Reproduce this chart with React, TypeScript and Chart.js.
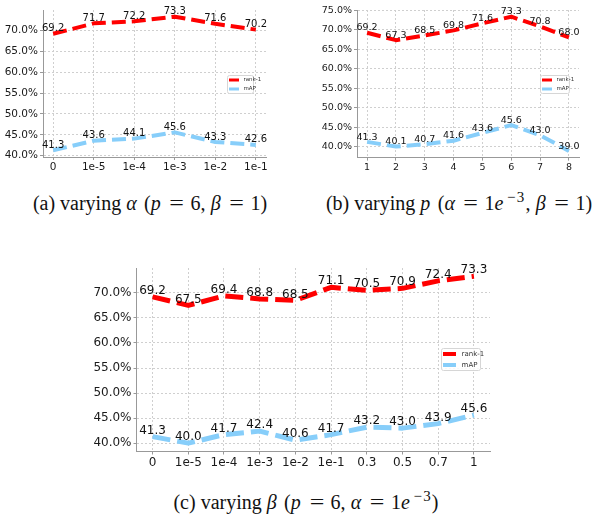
import React, { useEffect, useRef } from "react";
import { Chart, registerables } from "chart.js";

Chart.register(...registerables);

// ---------- data ----------
const seriesNames = ["rank-1", "mAP"];

const alphaLabels = ["0", "1e-5", "1e-4", "1e-3", "1e-2", "1e-1"];
const alphaRank1 = [69.2, 71.7, 72.2, 73.3, 71.6, 70.2];
const alphaMAP = [41.3, 43.6, 44.1, 45.6, 43.3, 42.6];

const pValues = [1, 2, 3, 4, 5, 6, 7, 8];
const pLabels = ["1", "2", "3", "4", "5", "6", "7", "8"];
const pRank1 = [69.2, 67.3, 68.5, 69.8, 71.6, 73.3, 70.8, 68.0];
const pMAP = [41.3, 40.1, 40.7, 41.6, 43.6, 45.6, 43.0, 39.0];

const betaLabels = ["0", "1e-5", "1e-4", "1e-3", "1e-2", "1e-1", "0.3", "0.5", "0.7", "1"];
const betaRank1 = [69.2, 67.5, 69.4, 68.8, 68.5, 71.1, 70.5, 70.9, 72.4, 73.3];
const betaMAP = [41.3, 40.0, 41.7, 42.4, 40.6, 41.7, 43.2, 43.0, 43.9, 45.6];

const yTicksA = [40, 45, 50, 55, 60, 65, 70];
const yTicksB = [40, 45, 50, 55, 60, 65, 70, 75];
const yTicksC = [40, 45, 50, 55, 60, 65, 70];

const RED = "#ff0000";
const BLUE = "#87cefa";

type Box = { x: number; y: number; w: number; h: number };

type PanelProps = {
  left: number;
  top: number;
  W: number;
  H: number;
  area: { left: number; top: number; right: number; bottom: number };
  xs: number[];
  xLabels: string[];
  rank1: number[];
  mAP: number[];
  xMin: number;
  xMax: number;
  yMin: number;
  yMax: number;
  yTicks: number[];
  tickFont: number;
  valueFont: number;
  lineWidth: number;
  dash: number[];
  legend: Box;
  legendFont: number;
  legendLine: number;
  legendSample: number;
};

function Panel(p: PanelProps) {
  const ref = useRef<HTMLCanvasElement | null>(null);
  useEffect(() => {
    if (!ref.current) return;
    const valuePlugin = {
      id: "valueLabels",
      afterDatasetsDraw(chart: any) {
        const ctx = chart.ctx;
        ctx.save();
        ctx.font = `${p.valueFont}px "DejaVu Sans"`;
        ctx.fillStyle = "#111111";
        ctx.textAlign = "center";
        ctx.textBaseline = "bottom";
        chart.data.datasets.forEach((ds: any, di: number) => {
          const meta = chart.getDatasetMeta(di);
          meta.data.forEach((pt: any, i: number) => {
            ctx.fillText(ds.data[i].y.toFixed(1), pt.x, pt.y);
          });
        });
        ctx.restore();
      },
    };
    const legendPlugin = {
      id: "boxLegend",
      afterDraw(chart: any) {
        const ctx = chart.ctx;
        const b = p.legend;
        ctx.save();
        ctx.fillStyle = "rgba(255,255,255,0.85)";
        ctx.strokeStyle = "#d6d6d6";
        ctx.lineWidth = 1;
        ctx.beginPath();
        if ((ctx as any).roundRect) (ctx as any).roundRect(b.x + 0.5, b.y + 0.5, b.w, b.h, 2);
        else ctx.rect(b.x + 0.5, b.y + 0.5, b.w, b.h);
        ctx.fill();
        ctx.stroke();
        const colors = [RED, BLUE];
        const rowH = b.h / 2;
        ctx.font = `${p.legendFont}px "DejaVu Sans"`;
        ctx.textAlign = "left";
        ctx.textBaseline = "middle";
        colors.forEach((c, i) => {
          const cy = b.y + rowH * (i + 0.5) + 0.5;
          ctx.strokeStyle = c;
          ctx.lineWidth = p.legendLine;
          ctx.beginPath();
          ctx.moveTo(b.x + 2, cy);
          ctx.lineTo(b.x + 2 + p.legendSample, cy);
          ctx.stroke();
          ctx.fillStyle = "#333333";
          ctx.fillText(seriesNames[i], b.x + 2 + p.legendSample + p.legendFont * 0.8, cy);
        });
        ctx.restore();
      },
    };
    const mkData = (vals: number[]) => p.xs.map((x, i) => ({ x, y: vals[i] }));
    const baseDs = {
      borderWidth: p.lineWidth,
      borderDash: p.dash,
      pointRadius: 0,
      fill: false,
      tension: 0,
      borderCapStyle: "butt",
      borderJoinStyle: "round",
    };
    const gridCommon = {
      color: "#cfcfcf",
      lineWidth: 1,
      drawTicks: true,
      tickLength: 3,
      tickColor: "#999999",
      tickBorderDash: [],
      tickWidth: 1,
    };
    const chart = new Chart(ref.current, {
      type: "line",
      data: {
        datasets: [
          { ...baseDs, label: seriesNames[0], data: mkData(p.rank1), borderColor: RED, backgroundColor: RED },
          { ...baseDs, label: seriesNames[1], data: mkData(p.mAP), borderColor: BLUE, backgroundColor: BLUE },
        ] as any,
      },
      options: {
        animation: false,
        responsive: false,
        maintainAspectRatio: false,
        events: [],
        layout: { padding: { left: 0, top: p.area.top, right: p.W - p.area.right, bottom: 0 } },
        plugins: { legend: { display: false }, tooltip: { enabled: false } },
        scales: {
          x: {
            type: "linear",
            min: p.xMin,
            max: p.xMax,
            afterBuildTicks: (s: any) => {
              s.ticks = p.xs.map((v) => ({ value: v }));
            },
            afterFit: (s: any) => {
              s.height = p.H - p.area.bottom;
            },
            ticks: {
              autoSkip: false,
              maxRotation: 0,
              minRotation: 0,
              padding: 1,
              color: "#1a1a1a",
              font: { family: "DejaVu Sans", size: p.tickFont },
              callback: (_v: any, i: number) => p.xLabels[i],
            },
            grid: gridCommon,
            border: { display: true, color: "#999999", width: 1, dash: [2, 2] },
          },
          y: {
            type: "linear",
            min: p.yMin,
            max: p.yMax,
            afterBuildTicks: (s: any) => {
              s.ticks = p.yTicks.map((v) => ({ value: v }));
            },
            afterFit: (s: any) => {
              s.width = p.area.left;
            },
            ticks: {
              padding: 2,
              color: "#1a1a1a",
              font: { family: "DejaVu Sans", size: p.tickFont },
              callback: (v: any) => Number(v).toFixed(1) + "%",
            },
            grid: gridCommon,
            border: { display: true, color: "#999999", width: 1, dash: [2, 2] },
          },
        },
      } as any,
      plugins: [valuePlugin, legendPlugin],
    });
    return () => chart.destroy();
  }, []);
  return (
    <canvas
      ref={ref}
      width={p.W}
      height={p.H}
      style={{ position: "absolute", left: p.left, top: p.top, width: p.W, height: p.H, display: "block" }}
    />
  );
}

const capStyle = (cx: number, top: number, size: number): React.CSSProperties => ({
  position: "absolute",
  left: cx,
  top,
  transform: "translateX(-50%)",
  fontFamily: '"Liberation Serif", "Times New Roman", serif',
  fontSize: size,
  lineHeight: "1",
  whiteSpace: "nowrap",
  color: "#111",
});

const Sup = ({ children }: { children: React.ReactNode }) => (
  <span style={{ fontSize: "0.75em", position: "relative", top: "-0.55em", letterSpacing: "0.08em", marginLeft: "0.08em" }}>
    {children}
  </span>
);

const Eq = () => (
  <span style={{ margin: "0 0.4em", display: "inline-block", transform: "scaleX(1.3)" }}>=</span>
);

const M = ({ children }: { children: React.ReactNode }) => (
  <i style={{ marginRight: "0.12em" }}>{children}</i>
);

const Comma = () => <span style={{ marginRight: "0.02em" }}>,</span>;

export default function App() {
  return (
    <div style={{ position: "absolute", left: 0, top: 0, width: 607, height: 515, background: "#fff", overflow: "hidden" }}>
      <Panel
        left={0}
        top={0}
        W={300}
        H={185}
        area={{ left: 43, top: 10, right: 266, bottom: 157 }}
        xs={alphaLabels.map((_, i) => i)}
        xLabels={alphaLabels}
        rank1={alphaRank1}
        mAP={alphaMAP}
        xMin={-0.25}
        xMax={5.25}
        yMin={39.7}
        yMax={74.9}
        yTicks={yTicksA}
        tickFont={10.5}
        valueFont={10}
        lineWidth={4}
        dash={[14, 6]}
        legend={{ x: 227, y: 75, w: 26, h: 18 }}
        legendFont={5.5}
        legendLine={3}
        legendSample={10}
      />
      <Panel
        left={300}
        top={0}
        W={307}
        H={185}
        area={{ left: 57, top: 10, right: 279, bottom: 157.6 }}
        xs={pValues}
        xLabels={pLabels}
        rank1={pRank1}
        mAP={pMAP}
        xMin={0.65}
        xMax={8.35}
        yMin={37.285}
        yMax={75.015}
        yTicks={yTicksB}
        tickFont={9.5}
        valueFont={9.5}
        lineWidth={4}
        dash={[14, 6]}
        legend={{ x: 240, y: 75, w: 29, h: 18 }}
        legendFont={5.5}
        legendLine={3}
        legendSample={10}
      />
      <Panel
        left={0}
        top={258}
        W={607}
        H={215}
        area={{ left: 136.5, top: 10, right: 490, bottom: 193.5 }}
        xs={betaLabels.map((_, i) => i)}
        xLabels={betaLabels}
        rank1={betaRank1}
        mAP={betaMAP}
        xMin={-0.45}
        xMax={9.45}
        yMin={38.335}
        yMax={74.965}
        yTicks={yTicksC}
        tickFont={12}
        valueFont={12}
        lineWidth={5}
        dash={[18, 7]}
        legend={{ x: 441, y: 90, w: 39, h: 22 }}
        legendFont={7}
        legendLine={4}
        legendSample={13}
      />
      <div style={capStyle(150, 193, 20)}>
        (a) varying <M>α</M> (<M>p</M><Eq />6<Comma /> <M>β</M><Eq />1)
      </div>
      <div style={capStyle(459, 193, 20)}>
        (b) varying <M>p</M> (<M>α</M><Eq />1<M>e</M>
        <Sup>−3</Sup><Comma /> <M>β</M><Eq />1)
      </div>
      <div style={capStyle(306, 492, 20)}>
        (c) varying <M>β</M> (<M>p</M><Eq />6<Comma /> <M>α</M><Eq />1<M>e</M>
        <Sup>−3</Sup>)
      </div>
    </div>
  );
}
